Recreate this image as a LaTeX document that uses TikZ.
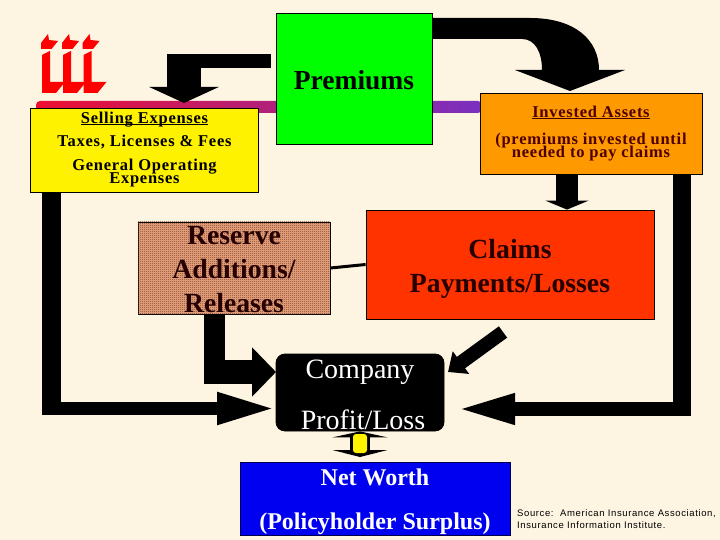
\documentclass[tikz,border=0pt]{standalone}
\usepackage{fontspec}
\setmainfont{Liberation Serif}
\newfontfamily\sourcefont[LetterSpace=6.5]{Liberation Sans}
\newfontfamily\spacedfont[LetterSpace=4.5]{Liberation Serif}
\usetikzlibrary{arrows.meta,patterns}

\definecolor{paper}{HTML}{FDF4E2}
\definecolor{brick}{HTML}{F0A880}
\definecolor{brickdark}{HTML}{70402A}
\definecolor{barred}{HTML}{EE1030}
\definecolor{barmid}{HTML}{C8287A}
\definecolor{barpurple}{HTML}{7A30C0}
\definecolor{orangebox}{HTML}{FF9900}
\definecolor{redbox}{HTML}{FF3300}
\definecolor{bluebox}{HTML}{0000F0}

\pgfdeclarepatternformonly{brickcheck}{\pgfpointorigin}{\pgfqpoint{2pt}{2pt}}{\pgfqpoint{2pt}{2pt}}{
    \pgfpathrectangle{\pgfpointorigin}{\pgfqpoint{1pt}{1pt}}
    \pgfpathrectangle{\pgfqpoint{1pt}{1pt}}{\pgfqpoint{1pt}{1pt}}
    \pgfusepath{fill}
}

\newcommand{\tightlines}{\lineskiplimit=-30pt\relax}
\newcommand{\headline}[1]{\underline{\smash{#1}}}

\tikzset{
    box/.style={draw=black, line width=0.8pt, inner sep=0pt, align=center},
    flow/.style={draw=black, line width=#1},
    head/.style 2 args={arrows={-{Triangle[width=#1pt,length=#2pt]}}},
    smalltext/.style={font=\spacedfont\fontsize{16.5}{13}\selectfont\tightlines\bfseries},
    bigtext/.style={font=\fontsize{27.7}{34}\selectfont\tightlines\bfseries}
}

\begin{document}
\begin{tikzpicture}[x=1pt,y=-1pt]
    \useasboundingbox (0,0) rectangle (720,540);

    % Paper background
    \fill[paper] (0,0) rectangle (720,540);

    % Logo
    \foreach \dx in {0,21,41.5} {
        \fill[red, shift={(\dx,0)}] (41,43) -- (48,34) -- (49,40) -- (58,41) -- (51.5,49) -- (41,49) -- cycle;
        \fill[red, shift={(\dx,0)}] (42,55) -- (50,51) -- (50,82) -- (65,82) -- (56,93) -- (42,93) -- cycle;
    }

    % Shaded bar behind the top boxes
    \shade[left color=barred, middle color=barmid, right color=barpurple, rounded corners=4pt] (36,101) rectangle (482,113);

    % Boxes
    \node[box, fill=green, minimum width=156pt, minimum height=131pt, font=\fontsize{27.5}{30}\selectfont\bfseries]
        (premiums) at (354,78.5) {\rule{0pt}{22pt}Premiums};
    \node[box, fill=yellow, minimum width=228pt, minimum height=84pt, smalltext]
        (selling) at (144.5,150) {\rule{0pt}{10pt}\headline{Selling Expenses}\\[10pt]Taxes, Licenses \& Fees\\[11pt]General Operating\\Expenses};
    \node[box, fill=orangebox, minimum width=222pt, minimum height=81pt, smalltext, text=black!70!red]
        (invested) at (591,133.5) {\rule{0pt}{11pt}\headline{Invested Assets}\\[14pt](premiums invested until\\needed to pay claims};
    \node[box, fill=brick, postaction={pattern=brickcheck, pattern color=brickdark}, minimum width=192pt, minimum height=92pt, bigtext, text=black!85!red]
        (reserve) at (234,268) {\rule{0pt}{22pt}Reserve\\Additions/\\Releases};
    \node[box, fill=redbox, minimum width=288pt, minimum height=109pt, bigtext, text=black!85!red]
        (claims) at (510,264.5) {\rule{0pt}{27pt}Claims\\Payments/Losses};
    \node[box, fill=black, draw=black, rounded corners=9pt, minimum width=168pt, minimum height=77pt, text=white,
        font=\fontsize{28}{51}\selectfont]
        (company) at (360,392.5) {\rule{0pt}{24pt}Company\\\hspace*{6pt}Profit/Loss};
    \node[box, fill=bluebox, draw=black!70!blue, minimum width=270pt, minimum height=73pt, text=white,
        font=\fontsize{24}{44}\selectfont\bfseries]
        (networth) at (375,498.5) {\rule{0pt}{24pt}Net Worth\\(Policyholder Surplus)};

    % Free ends of the arrows
    \coordinate (sellstart) at (271,61);
    \coordinate (selltip) at (184,103);
    \coordinate (leftend) at (277,408.5);
    \coordinate (rightend) at (453,409);
    \coordinate (diagstart) at (503,332);
    \coordinate (diagtip) at (448,372);
    \coordinate (resttip) at (276,372);

    % Premiums to selling expenses
    \draw[flow=14pt] (sellstart) -- (167,61);
    \draw[flow=34pt, head={69}{16}] (184,54) -- (selltip);

    % Premiums to invested assets
    \fill[black] (premiums.east |- 0,18) -- (530,18) .. controls (575,18) and (599,40) .. (599,70)
        -- (625,70) -- (570,91) -- (515,70) -- (542,70) .. controls (542,52) and (535,39) .. (522,39)
        -- (premiums.east |- 0,39) -- cycle;

    % Invested assets to claims
    \draw[flow=22pt, head={43}{9}] (567,0 |- invested.south) -- (567,0 |- claims.north);

    % Invested assets round to company
    \draw[flow=18pt] (681.5,0 |- invested.south) -- (681.5,416);
    \draw[flow=14pt, head={27}{62}] (690.5,409) -- (rightend);

    % Selling expenses round to company
    \draw[flow=19pt] (51.5,0 |- selling.south) -- (51.5,415);
    \draw[flow=13pt, head={29}{60}] (42,408.5) -- (leftend);

    % Reserve to company
    \draw[flow=21pt] (214.5,0 |- reserve.south) -- (214.5,384);
    \draw[flow=24pt, head={48}{24}] (204,372) -- (resttip);

    % Claims to company
    \draw[flow=14pt, head={27}{16}] (diagstart) -- (diagtip);

    % Reserve to claims
    \draw[line width=3pt] (reserve.east) -- (claims.west);

    % Company and net worth
    \draw[flow=20pt, arrows={{Triangle[width=55pt,length=6pt]}-{Triangle[width=55pt,length=7pt]}}]
        (360,0 |- company.south) -- (360,457);
    \node[fill=yellow, rounded corners=3pt, minimum width=14pt, minimum height=19pt, inner sep=0pt]
        (link) at (360,443.5) {};

    % Source
    \node[anchor=north west, inner sep=0pt, align=left, font=\fontsize{9.5}{12}\selectfont\sourcefont]
        (source) at (517,509) {Source:\ \ American Insurance Association,\\Insurance Information Institute.};
\end{tikzpicture}
\end{document}
